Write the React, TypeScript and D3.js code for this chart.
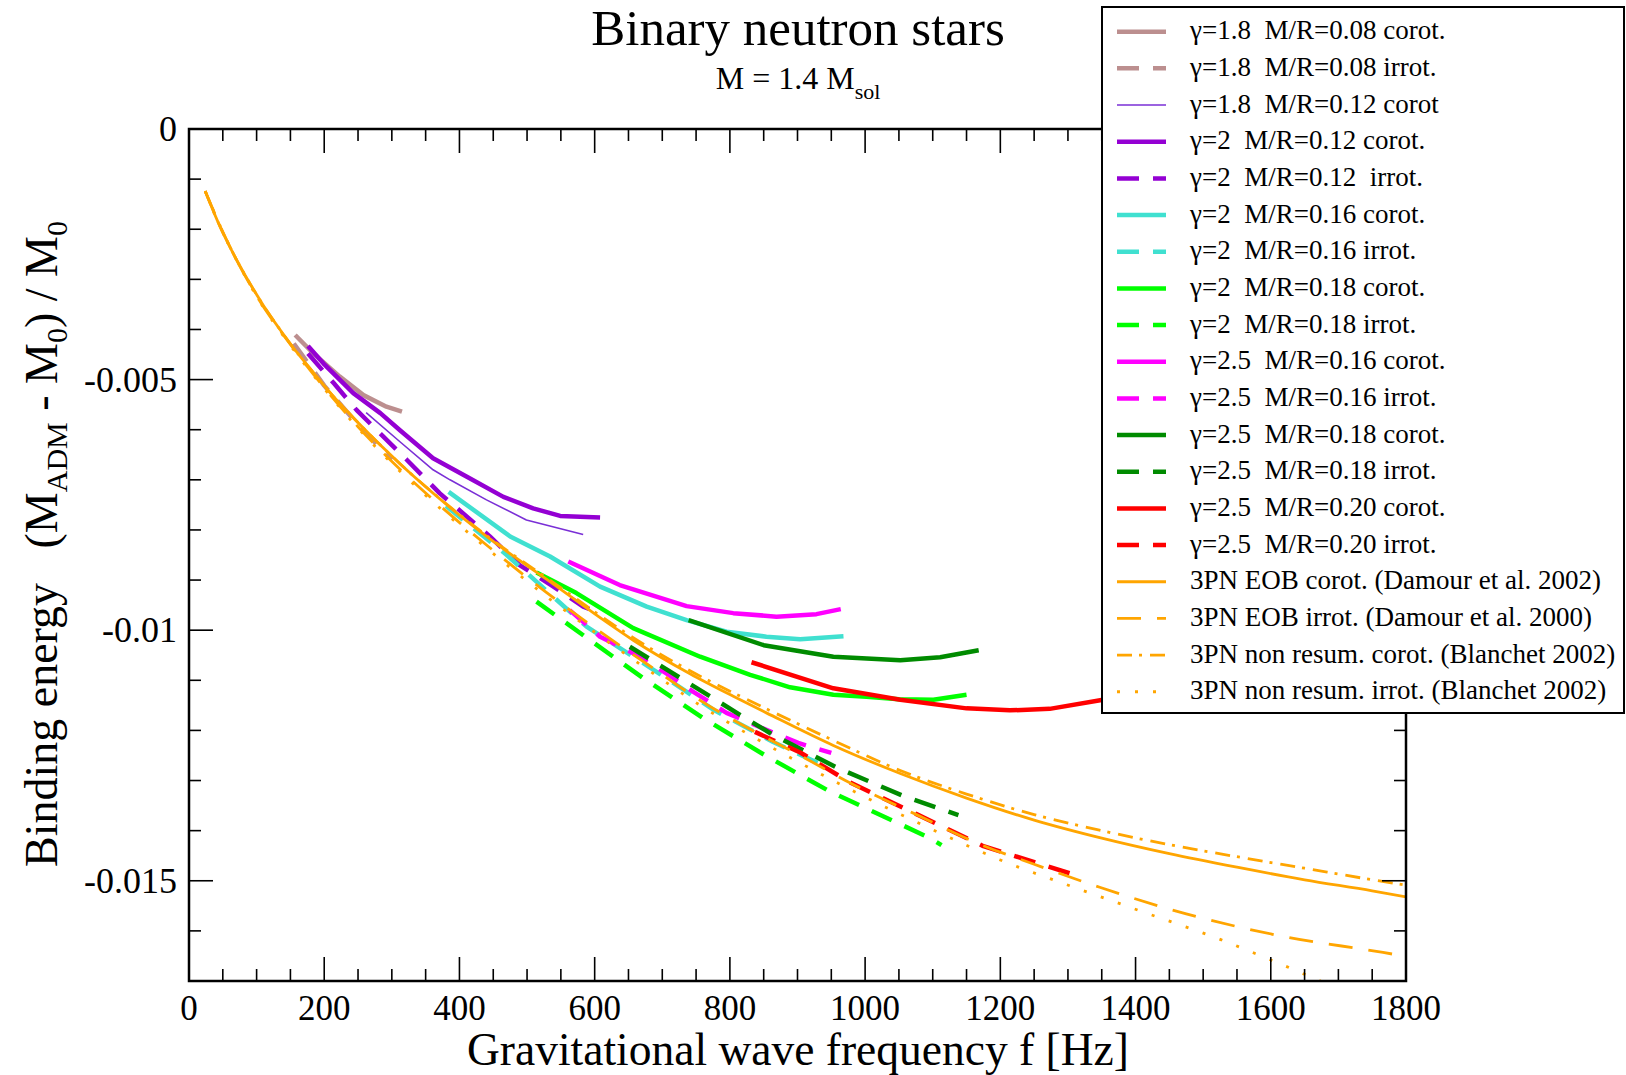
import React from "react";
import * as d3 from "d3";

const W = 1626;
const H = 1075;
const FONT = "'Liberation Serif', 'Times New Roman', serif";

// ---- data: [frequency (Hz), binding energy] ----
const g18c008 = [[157, -0.00411], [184, -0.00448], [223, -0.00494], [258, -0.00531], [292, -0.00554], [315, -0.00564]];
const g18i008 = [[155, -0.00428], [200, -0.00512], [250, -0.0059], [300, -0.0066]];
const g18c012 = [[262, -0.00566], [312, -0.00624], [361, -0.0068], [386, -0.007], [440, -0.0074], [499, -0.0078], [583, -0.00809]];
const g2c012 = [[176, -0.00433], [199, -0.00468], [243, -0.00527], [283, -0.00567], [312, -0.00601], [361, -0.00657], [411, -0.00694], [465, -0.00734], [509, -0.00757], [549, -0.00772], [608, -0.00775]];
const g2i012 = [[176, -0.00448], [214, -0.00507], [248, -0.00561], [322, -0.0066], [371, -0.00727], [445, -0.00813], [489, -0.0087], [539, -0.00913], [583, -0.00953], [596, -0.0096]];
const g2c016 = [[384, -0.00724], [475, -0.00813], [534, -0.00853], [608, -0.00913], [677, -0.00953], [736, -0.0098], [795, -0.01003], [854, -0.01013], [904, -0.01018], [968, -0.01012]];
const g2i016 = [[380, -0.00752], [470, -0.0085], [588, -0.00993], [687, -0.01079], [776, -0.01159], [864, -0.01223], [935, -0.01268]];
const g2c018 = [[514, -0.00885], [573, -0.00926], [657, -0.00996], [756, -0.01053], [830, -0.01089], [889, -0.01114], [953, -0.01129], [1002, -0.01133], [1050, -0.01138], [1101, -0.01139], [1150, -0.01129]];
const g2i018 = [[514, -0.00943], [586, -0.01013], [672, -0.01096], [761, -0.01176], [855, -0.01252], [948, -0.01322], [1047, -0.01384], [1096, -0.01415], [1113, -0.01429]];
const g25c016 = [[561, -0.00863], [637, -0.0091], [736, -0.00952], [805, -0.00966], [869, -0.00973], [928, -0.00968], [964, -0.00958]];
const g25i016 = [[563, -0.0096], [608, -0.01013], [657, -0.01046], [706, -0.01086], [746, -0.01123], [795, -0.01165], [854, -0.01199], [901, -0.01225], [950, -0.01245]];
const g25c018 = [[739, -0.0098], [850, -0.0103], [953, -0.01053], [1052, -0.0106], [1111, -0.01054], [1168, -0.0104]];
const g25i018 = [[652, -0.01033], [815, -0.01169], [864, -0.01209], [958, -0.01274], [1057, -0.01331], [1138, -0.01369]];
const g25c020 = [[832, -0.01064], [953, -0.01116], [1052, -0.01139], [1150, -0.01156], [1214, -0.0116], [1273, -0.01157], [1352, -0.01139], [1420, -0.0112]];
const g25i020 = [[837, -0.01203], [904, -0.01244], [978, -0.01304], [1076, -0.01367], [1175, -0.01431], [1307, -0.01487]];

const eobCorot = [[24, -0.00124], [46, -0.00195], [68, -0.00255], [90, -0.00308], [110, -0.00352], [135, -0.00401], [154, -0.00436], [184, -0.00486], [208, -0.00525], [243, -0.00576], [312, -0.00668], [386, -0.00755], [460, -0.00833], [538, -0.00907], [608, -0.00975], [657, -0.0102], [741, -0.01087], [805, -0.01132], [854, -0.01165], [953, -0.0123], [1052, -0.01286], [1150, -0.01335], [1250, -0.01379], [1350, -0.01415], [1450, -0.01446], [1550, -0.01473], [1650, -0.01498], [1750, -0.0152], [1800, -0.01532]];
const eobIrrot = [[24, -0.00124], [50, -0.00205], [100, -0.00333], [150, -0.0043], [200, -0.00516], [250, -0.00594], [312, -0.00679], [380, -0.00762], [440, -0.0083], [529, -0.00925], [608, -0.01003], [680, -0.0107], [756, -0.0114], [837, -0.01203], [904, -0.0125], [978, -0.01305], [1076, -0.01368], [1175, -0.0143], [1250, -0.01467], [1347, -0.01513], [1475, -0.01566], [1618, -0.01611], [1766, -0.01643], [1800, -0.01651]];
const pnCorot = [[24, -0.00124], [46, -0.00195], [68, -0.00255], [90, -0.00308], [110, -0.00352], [135, -0.00401], [154, -0.00436], [184, -0.00486], [208, -0.00525], [243, -0.00576], [312, -0.00668], [386, -0.00754], [460, -0.00831], [538, -0.00904], [608, -0.00971], [657, -0.01015], [741, -0.01081], [805, -0.01125], [854, -0.01157], [953, -0.0122], [1052, -0.0128], [1150, -0.01327], [1250, -0.01368], [1350, -0.014], [1450, -0.01428], [1550, -0.01452], [1650, -0.01475], [1750, -0.01498], [1800, -0.01509]];
const pnIrrot = [[24, -0.00124], [50, -0.00205], [100, -0.00334], [150, -0.00432], [200, -0.00518], [250, -0.00597], [312, -0.00683], [380, -0.00767], [440, -0.00836], [529, -0.00933], [608, -0.01012], [680, -0.0108], [756, -0.0115], [837, -0.01215], [904, -0.01265], [1000, -0.01333], [1111, -0.01405], [1199, -0.01458], [1307, -0.01512], [1417, -0.01565], [1527, -0.01618], [1600, -0.01658], [1670, -0.01698], [1760, -0.0175]];

const xTickValues = d3.range(0, 1801, 200);
const xMinorValues = d3.range(0, 1801, 50);
const yTickValues = [0, -0.005, -0.01, -0.015];
const yTickLabels = ["0", "-0.005", "-0.01", "-0.015"];
const yMinorValues = d3.range(0, 17).map((i) => -i * 0.001);

const legendLabels = [
  "γ=1.8  M/R=0.08 corot.",
  "γ=1.8  M/R=0.08 irrot.",
  "γ=1.8  M/R=0.12 corot",
  "γ=2  M/R=0.12 corot.",
  "γ=2  M/R=0.12  irrot.",
  "γ=2  M/R=0.16 corot.",
  "γ=2  M/R=0.16 irrot.",
  "γ=2  M/R=0.18 corot.",
  "γ=2  M/R=0.18 irrot.",
  "γ=2.5  M/R=0.16 corot.",
  "γ=2.5  M/R=0.16 irrot.",
  "γ=2.5  M/R=0.18 corot.",
  "γ=2.5  M/R=0.18 irrot.",
  "γ=2.5  M/R=0.20 corot.",
  "γ=2.5  M/R=0.20 irrot.",
  "3PN EOB corot. (Damour et al. 2002)",
  "3PN EOB irrot. (Damour et al. 2000)",
  "3PN non resum. corot. (Blanchet 2002)",
  "3PN non resum. irrot. (Blanchet 2002)",
];

const DASH = "22,14";
const series = [
  { data: g18c008, color: "#bc8f8f", w: 4.5, dash: null, smooth: false },
  { data: g18i008, color: "#bc8f8f", w: 4.5, dash: DASH, smooth: false },
  { data: g18c012, color: "#7a2fd6", w: 1.6, dash: null, smooth: false },
  { data: g2c012, color: "#9400d3", w: 4.5, dash: null, smooth: false },
  { data: g2i012, color: "#9400d3", w: 4.5, dash: DASH, smooth: false },
  { data: g2c016, color: "#40e0d0", w: 4.5, dash: null, smooth: false },
  { data: g2i016, color: "#40e0d0", w: 4.5, dash: DASH, smooth: false },
  { data: g2c018, color: "#00ff00", w: 4.5, dash: null, smooth: false },
  { data: g2i018, color: "#00ff00", w: 4.5, dash: DASH, smooth: false },
  { data: g25c016, color: "#ff00ff", w: 4.5, dash: null, smooth: false },
  { data: g25i016, color: "#ff00ff", w: 4.5, dash: DASH, smooth: false },
  { data: g25c018, color: "#008b00", w: 4.5, dash: null, smooth: false },
  { data: g25i018, color: "#008b00", w: 4.5, dash: DASH, smooth: false },
  { data: g25c020, color: "#ff0000", w: 4.5, dash: null, smooth: false },
  { data: g25i020, color: "#ff0000", w: 4.5, dash: DASH, smooth: false },
  { data: eobCorot, color: "#ffa500", w: 2.8, dash: null, smooth: true },
  { data: eobIrrot, color: "#ffa500", w: 2.8, dash: "24,16", smooth: true },
  { data: pnCorot, color: "#ffa500", w: 2.8, dash: "15,7,3,8", smooth: true },
  { data: pnIrrot, color: "#ffa500", w: 2.8, dash: "3,15", smooth: true },
];

const left = 189;
const right = 1406;
const top = 129;
const bottom = 981;

const App = () => {
  const x = d3.scaleLinear().domain([0, 1800]).range([left, right]);
  const y = d3.scaleLinear().domain([-0.017, 0]).range([bottom, top]);

  const line = d3.line().x((d) => x(d[0])).y((d) => y(d[1]));
  const smoothLine = d3
    .line()
    .x((d) => x(d[0]))
    .y((d) => y(d[1]))
    .curve(d3.curveMonotoneX);

  const legX = 1102;
  const legY = 7;
  const rowH = 36.67;

  return (
    <svg
      width={W}
      height={H}
      style={{ position: "absolute", left: 0, top: 0, background: "#fff" }}
      fontFamily={FONT}
    >
      <defs>
        <clipPath id="plotArea">
          <rect x={left} y={top} width={right - left} height={bottom - top} />
        </clipPath>
      </defs>
      <rect x={0} y={0} width={W} height={H} fill="#fff" />

      {/* title */}
      <text x={798} y={45} fontSize={51} textAnchor="middle">
        Binary neutron stars
      </text>
      <text x={798} y={89} fontSize={32} textAnchor="middle">
        M = 1.4 M
        <tspan fontSize={22} dy={10}>sol</tspan>
      </text>

      {/* curves */}
      <g clipPath="url(#plotArea)">
        {series.map((s, i) => (
          <path
            key={i}
            d={(s.smooth ? smoothLine : line)(s.data)}
            fill="none"
            stroke={s.color}
            strokeWidth={s.w}
            strokeDasharray={s.dash || undefined}
            strokeLinejoin="round"
          />
        ))}
      </g>

      {/* ticks */}
      {xMinorValues.map((v) => {
        const major = v % 200 === 0;
        const len = major ? 24 : 12;
        return (
          <g key={"x" + v}>
            <line x1={x(v)} x2={x(v)} y1={bottom} y2={bottom - len} stroke="#000" strokeWidth={1.6} />
            <line x1={x(v)} x2={x(v)} y1={top} y2={top + len} stroke="#000" strokeWidth={1.6} />
          </g>
        );
      })}
      {yMinorValues.map((v, i) => {
        const major = i % 5 === 0;
        const len = major ? 24 : 12;
        return (
          <g key={"y" + i}>
            <line x1={left} x2={left + len} y1={y(v)} y2={y(v)} stroke="#000" strokeWidth={1.6} />
            <line x1={right} x2={right - len} y1={y(v)} y2={y(v)} stroke="#000" strokeWidth={1.6} />
          </g>
        );
      })}

      {/* frame */}
      <rect
        x={left}
        y={top}
        width={right - left}
        height={bottom - top}
        fill="none"
        stroke="#000"
        strokeWidth={2.5}
      />

      {/* tick labels */}
      {xTickValues.map((v) => (
        <text key={"xl" + v} x={x(v)} y={1020} fontSize={35} textAnchor="middle">
          {v}
        </text>
      ))}
      {yTickValues.map((v, i) => (
        <text key={"yl" + i} x={177} y={y(v) + 12} fontSize={36} textAnchor="end">
          {yTickLabels[i]}
        </text>
      ))}

      {/* axis titles */}
      <text x={798} y={1065} fontSize={45.5} textAnchor="middle">
        Gravitational wave frequency f [Hz]
      </text>
      <text
        transform="translate(57,544) rotate(-90)"
        fontSize={46}
        textAnchor="middle"
        style={{ whiteSpace: "pre" }}
      >
        {"Binding energy   (M"}
        <tspan fontSize={30} dy={10}>ADM</tspan>
        <tspan dy={-10}>{" - M"}</tspan>
        <tspan fontSize={30} dy={10}>0</tspan>
        <tspan dy={-10}>{") / M"}</tspan>
        <tspan fontSize={30} dy={10}>0</tspan>
      </text>

      {/* legend */}
      <rect
        x={legX}
        y={legY}
        width={1624 - legX}
        height={713 - legY}
        fill="#fff"
        stroke="#000"
        strokeWidth={2}
      />
      {series.map((s, i) => {
        const cy = 31.7 + i * rowH;
        return (
          <g key={"leg" + i}>
            <line
              x1={1117}
              x2={1166}
              y1={cy}
              y2={cy}
              stroke={s.color}
              strokeWidth={s.w}
              strokeDasharray={s.dash || undefined}
            />
            <text x={1190} y={cy + 7.5} fontSize={27} style={{ whiteSpace: "pre" }}>
              {legendLabels[i]}
            </text>
          </g>
        );
      })}
    </svg>
  );
};

export default App;
